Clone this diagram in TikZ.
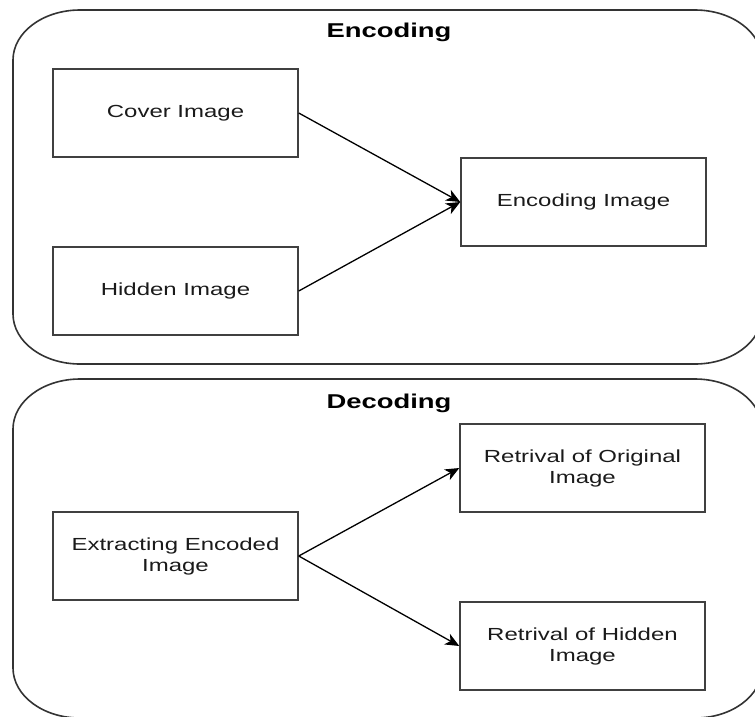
\documentclass[tikz,border=0pt]{standalone}
\usepackage{fontspec}
\setmainfont{Liberation Sans}[FakeStretch=1.37]
\usetikzlibrary{arrows.meta}
\definecolor{boxgray}{HTML}{404040}
\definecolor{outergray}{HTML}{333333}
\definecolor{textcol}{HTML}{1A1A1A}
\begin{document}
\begin{tikzpicture}[x=1pt,y=-1pt,
  box/.style={draw=boxgray, line width=1.5pt, minimum width=245pt, minimum height=88pt,
    inner sep=0pt, align=center, font=\fontsize{17.5}{21}\selectfont, text=textcol},
  title/.style={font=\bfseries\fontsize{20}{24}\selectfont, text=black, inner sep=0pt},
  container/.style={draw=outergray, line width=1.6pt},
  arr/.style={draw=black, line width=1.3pt, -{Stealth[length=14pt,width=12pt,inset=4pt]}}]
\useasboundingbox (0,0) rectangle (755,716);
\clip (0,0) rectangle (755,716);
\def\rx{67}\def\ry{50}
% top container
\draw[container] (13,60) arc[start angle=180,end angle=270,x radius=\rx,y radius=\ry]
  -- (695,10) arc[start angle=270,end angle=360,x radius=\rx,y radius=\ry]
  -- (762,314) arc[start angle=0,end angle=90,x radius=\rx,y radius=\ry]
  -- (80,364) arc[start angle=90,end angle=180,x radius=\rx,y radius=\ry] -- cycle;
% bottom container
\draw[container] (13,429) arc[start angle=180,end angle=270,x radius=\rx,y radius=\ry]
  -- (695,379) arc[start angle=270,end angle=360,x radius=\rx,y radius=\ry]
  -- (762,668) arc[start angle=0,end angle=90,x radius=\rx,y radius=\ry]
  -- (80,718) arc[start angle=90,end angle=180,x radius=\rx,y radius=\ry] -- cycle;
\node[title] (enctitle) at (389,32) {Encoding};
\node[title] (dectitle) at (389,403) {Decoding};
\node[box] (cover) at (175.5,113) {Cover Image};
\node[box] (hidden) at (175.5,291) {Hidden Image};
\node[box] (encimg) at (583.5,202) {Encoding Image};
\node[box] (extract) at (175.5,556) {Extracting Encoded\\Image};
\node[box] (retorig) at (582.5,468) {Retrival of Original\\Image};
\node[box] (rethid) at (582.5,646) {Retrival of Hidden\\Image};
\draw[arr] (cover.east) -- (encimg.west);
\draw[arr] (hidden.east) -- (encimg.west);
\draw[arr] (extract.east) -- (retorig.west);
\draw[arr] (extract.east) -- (rethid.west);
\end{tikzpicture}
\end{document}
